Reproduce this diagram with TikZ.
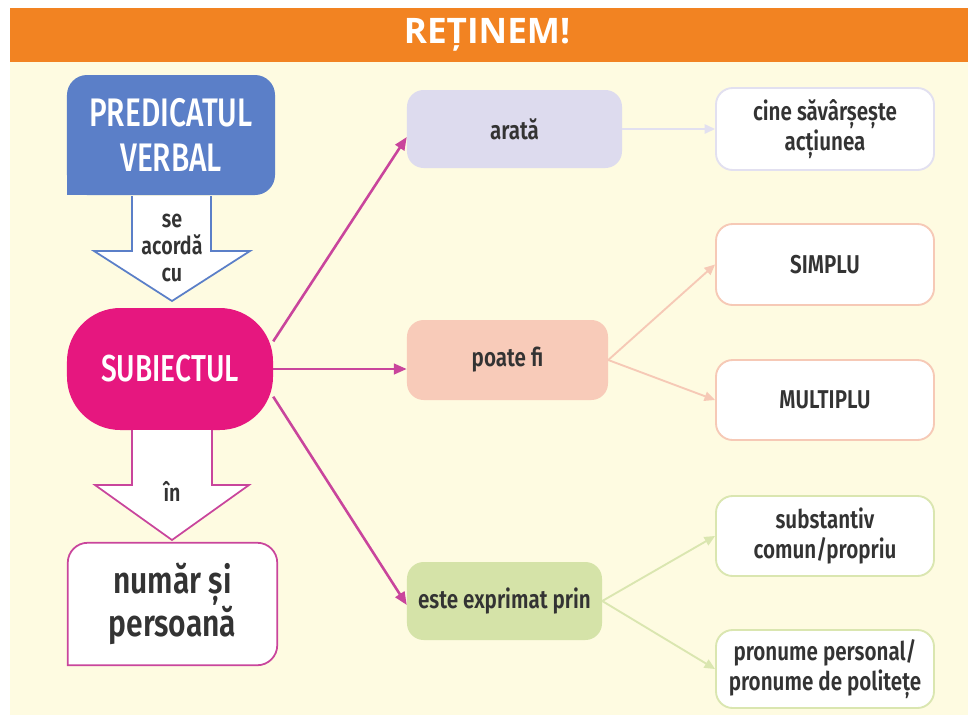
\documentclass[tikz,border=0pt]{standalone}
\usepackage{fontspec}
\usetikzlibrary{arrows.meta,calc}
\newfontfamily\hfont[FakeStretch=0.75,UprightFont=* Medium,BoldFont=* SemiBold]{Fira Sans}
\newfontfamily\bfont[FakeStretch=0.8,UprightFont=* SemiBold]{Fira Sans}
\newfontfamily\tfont{Open Sans}
\definecolor{orangeh}{HTML}{F28322}
\definecolor{cream}{HTML}{FEFBE1}
\definecolor{predblue}{HTML}{5B7FC8}
\definecolor{magenta}{HTML}{E6177F}
\definecolor{magline}{HTML}{C9459C}
\definecolor{lav}{HTML}{DDDBEE}
\definecolor{lavline}{HTML}{E2E0F0}
\definecolor{salmon}{HTML}{F8CBB9}
\definecolor{salline}{HTML}{F6C9B6}
\definecolor{greenb}{HTML}{D5E3A8}
\definecolor{greenline}{HTML}{DAE6B0}
\definecolor{txt}{HTML}{333333}
\tikzset{
  midbox/.style={rounded corners=0.5cm, inner sep=0pt, text=txt, font=\bfont\fontsize{22}{25}\selectfont, align=center},
  leafbox/.style={rounded corners=0.5cm, inner sep=0pt, fill=white, line width=1.6pt, minimum width=6.54cm, text=txt, font=\bfont\fontsize{22}{25}\selectfont, align=center},
  magarrow/.style={draw=magline, line width=2.2pt, -{Triangle[length=11pt,width=9pt]}},
  thinarrow/.style={line width=1.6pt, -{Triangle[length=9pt,width=8pt]}}
}
\begin{document}
\begin{tikzpicture}[x=0.03cm,y=-0.03cm]
\useasboundingbox (0,0) rectangle (968,715);
% background
\fill[white] (0,0) rectangle (968,715);
\fill[cream] (10,62) rectangle (968,715);
\fill[orangeh] (10,8) rectangle (968,62);
\node[text=white, font=\tfont\bfseries\fontsize{30}{32}\selectfont] (title) at (487,35) {REȚINEM!};

% PREDICATUL VERBAL
\node[fill=predblue, rounded corners=0.6cm, minimum width=6.24cm, minimum height=3.6cm, inner sep=0pt] (pv) at (171,135) {};
\fill[predblue] (pv.south west) rectangle ++(22,-22);
\node[text=white, align=center, font=\hfont\fontsize{34}{38}\selectfont] (pvt) at (pv.center) {PREDICATUL\\VERBAL};

% blue down arrow
\draw[predblue, line width=1.5pt, fill=white, line join=miter]
  (132,196) -- (132,251) -- (94,251) -- (172,301) -- (250,251) -- (211,251) -- (211,196);
\node[text=txt, align=center, font=\bfont\fontsize{21}{23}\selectfont] (acorda) at (172,248) {se\\acordă\\cu};

% SUBIECTUL
\node[fill=magenta, rounded corners=1.6cm, minimum width=6.18cm, minimum height=3.66cm, inner sep=0pt,
      text=white, font=\hfont\fontsize{32}{34}\selectfont] (sub) at (170,369) {SUBIECTUL};

% magenta down arrow
\draw[magline, line width=1.5pt, fill=white, line join=miter]
  (132,430) -- (132,485) -- (95,485) -- (172,540) -- (249,485) -- (212,485) -- (212,430);
\node[text=txt, font=\bfont\fontsize{21}{23}\selectfont] (in) at (172,491) {în};

% numar si persoana
\node[minimum width=6.27cm, minimum height=3.66cm, inner sep=0pt] (np) at (172.5,604) {};
\fill[white, rounded corners=0.6cm] (np.south west) -- (np.north west) -- (np.north east) -- (np.south east) -- cycle;
\fill[white] (np.south west) rectangle ++(30,-30);
\draw[magline, line width=1.5pt, rounded corners=0.6cm, line cap=rect]
  (np.south west) -- (np.north west) -- (np.north east) -- (np.south east) -- (np.south west);
\node[text=txt, align=center, font=\bfont\fontsize{32}{36}\selectfont] (npt) at (np.center) {număr și\\persoană};

% middle boxes
\node[midbox, fill=lav, minimum width=6.45cm, minimum height=2.34cm] (arata) at (514.5,129) {arată};
\node[midbox, fill=salmon, minimum width=6.03cm, minimum height=2.4cm] (poate) at (507.5,360) {poate fi};
\node[midbox, fill=greenb, minimum width=5.85cm, minimum height=2.34cm] (este) at (504.5,601) {este exprimat prin};

% leaf boxes
\node[leafbox, draw=lavline, minimum height=2.46cm] (cine) at (825,129) {cine săvârșește\\acțiunea};
\node[leafbox, draw=salline, minimum height=2.43cm] (simplu) at (825,264.5) {SIMPLU};
\node[leafbox, draw=salline, minimum height=2.4cm] (multi) at (825,400) {MULTIPLU};
\node[leafbox, draw=greenline, minimum height=2.4cm] (subst) at (825,536) {substantiv\\comun/propriu};
\node[leafbox, draw=greenline, minimum height=2.34cm] (pron) at (825,669) {pronume personal/\\pronume de politețe};

% connectors from SUBIECTUL
\draw[magarrow] (sub.15) -- ($(arata.west)+(0,8)$);
\draw[magarrow] (sub.east) -- (poate.west |- sub.east);
\draw[magarrow] (sub.-15) -- ($(este.west)+(0,4)$);

% pastel connectors
\draw[thinarrow, draw=lavline] (arata.east) -- (cine.west);
\draw[thinarrow, draw=salline] (poate.east) -- (simplu.west);
\draw[thinarrow, draw=salline] (poate.east) -- (multi.west);
\draw[thinarrow, draw=greenline] (este.east) -- (subst.west);
\draw[thinarrow, draw=greenline] (este.east) -- (pron.west);
\end{tikzpicture}
\end{document}
